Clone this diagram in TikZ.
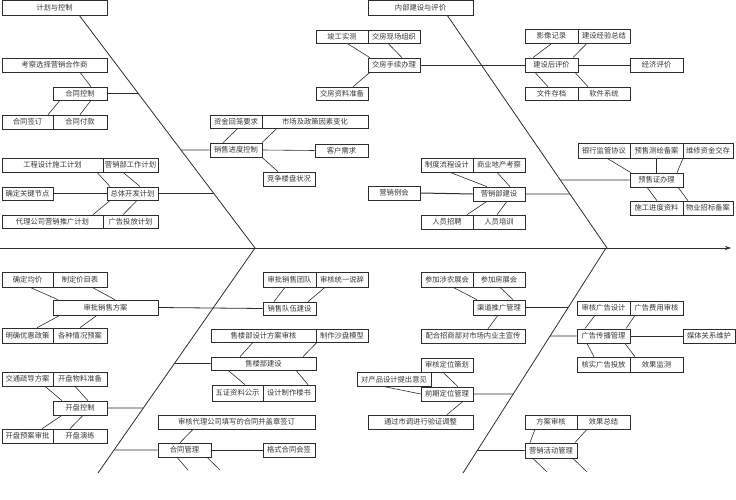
\documentclass[tikz,border=0pt]{standalone}
\usepackage{fontspec}
\newfontfamily\cjk{Noto Sans CJK SC}
\usetikzlibrary{arrows.meta}
\definecolor{ink}{RGB}{45,45,45}
\definecolor{txt}{RGB}{55,55,55}
\tikzset{
  bx/.style={draw=ink,line width=0.6pt,inner sep=0pt,text=txt,font=\cjk\fontsize{7.3}{8}\selectfont,fill=white},
  thk/.style={line width=0.95pt},
  ln/.style={draw=ink,line width=0.6pt},
  bone/.style={draw=ink,line width=0.8pt},
}
\newcommand\bx[7][]{%
  \pgfmathsetmacro\cx{(#3+#5)/2}\pgfmathsetmacro\cy{(#4+#6)/2}%
  \pgfmathsetmacro\ww{#5-#3}\pgfmathsetmacro\hh{#6-#4}%
  \node[bx,#1,minimum width=\ww pt,minimum height=\hh pt] (#2) at (\cx,\cy) {#7};}
\newcommand\cn[4]{\draw[ln] (#1.south -| #2,0) -- (#3.north -| #4,0);}
\begin{document}
\begin{tikzpicture}[x=1pt,y=-1pt]
\useasboundingbox (0,0) rectangle (736,500);
% spine and bones
\coordinate (sp0) at (0,248);
\coordinate (sp1) at (731,248);
\coordinate (b1a) at (79,15);  \coordinate (b1b) at (255,248);
\coordinate (b2a) at (447,15); \coordinate (b2b) at (607,248);
\coordinate (b3a) at (255,248); \coordinate (b3b) at (98,473);
\coordinate (b4a) at (606,248); \coordinate (b4b) at (463,473);
\draw[bone,-{Stealth[length=6pt,width=4pt]}] (sp0) -- (sp1);
\draw[bone] (b1a) -- (b1b);
\draw[bone] (b2a) -- (b2b);
\draw[bone] (b3a) -- (b3b);
\draw[bone] (b4a) -- (b4b);

% ---------- top-left ----------
\bx{plan}{2}{0.5}{107}{15}{计划与控制}
\bx{kc}{2}{58}{107}{72}{考察选择营销合作商}
\bx{htkz}{53}{87}{107}{100}{合同控制}
\bx{htqd}{2}{115}{53}{129}{合同签订}
\bx{htfk}{53}{115}{107}{129}{合同付款}
\bx{gcsj}{2}{158}{103}{172}{工程设计施工计划}
\bx{yxbgz}{103}{158}{158}{172}{营销部工作计划}
\bx{qdgj}{2}{187}{53}{200}{确定关键节点}
\bx[thk]{ztkf}{107}{187}{158}{200}{总体开发计划}
\bx{dlgs}{2}{215}{103}{228}{代理公司营销推广计划}
\bx{ggtf}{103}{215}{158}{228}{广告投放计划}
\bx{zjhl}{210}{115}{262}{128}{资金回笼要求}
\bx{scjzc}{262}{115}{368}{128}{市场及政策因素变化}
\bx{xsjd}{210}{143}{262}{157}{销售进度控制}
\bx{khxq}{315}{144}{368}{157}{客户需求}
\bx{jzlp}{263}{172}{315}{186}{竞争楼盘状况}

\cn{kc}{80}{htkz}{91}
\cn{htkz}{60}{htqd}{48}
\cn{htkz}{91}{htfk}{80}
\cn{gcsj}{97}{ztkf}{110}
\cn{yxbgz}{123}{ztkf}{140}
\cn{ztkf}{110}{dlgs}{93}
\cn{ztkf}{137}{ggtf}{123}
\draw[ln,line width=1pt] (qdgj.east) -- (ztkf.west);
\cn{zjhl}{238}{xsjd}{223}
\cn{scjzc}{277}{xsjd}{262}
\cn{xsjd}{262}{jzlp}{278}
\draw[ln] (xsjd.east) -- (khxq.west);
\draw[bone] (htkz.east) -- (intersection of b1a--b1b and htkz.east--htkz.west);
\draw[bone] (ztkf.east) -- (intersection of b1a--b1b and ztkf.east--ztkf.west);
\draw[bone] (intersection of b1a--b1b and xsjd.east--xsjd.west) -- (xsjd.west);

% ---------- top-right ----------
\bx{nbjs}{368}{0.5}{473}{15}{内部建设与评价}
\bx{jgsc}{316}{30}{368}{43}{竣工实测}
\bx{jfxc}{368}{30}{420}{43}{交房现场组织}
\bx{jfsx}{368}{58}{420}{72}{交房手续办理}
\bx{jfzl}{316}{87}{368}{100}{交房资料准备}
\bx{yxjl}{525}{29}{578}{43}{影像记录}
\bx{jsjy}{578}{29}{630}{43}{建设经验总结}
\bx[thk]{jshpj}{525}{58}{578}{72}{建设后评价}
\bx{jjpj}{630}{58}{683}{72}{经济评价}
\bx{wjcd}{525}{87}{578}{100}{文件存档}
\bx{rjxt}{578}{87}{630}{100}{软件系统}
\bx{yxlh}{368}{186}{420}{200}{营销例会}
\bx{zdlc}{421}{158}{473}{172}{制度流程设计}
\bx{sydc}{473}{158}{525}{172}{商业地产考察}
\bx{yxbjs}{473}{187}{525}{201}{营销部建设}
\bx{ryzp}{421}{215}{473}{229}{人员招聘}
\bx{rypx}{473}{215}{525}{229}{人员培训}
\bx{yhjg}{578}{143}{630}{158}{银行监管协议}
\bx{ysch}{630}{143}{683}{158}{预售测绘备案}
\bx{wxzj}{683}{143}{733}{158}{维修资金交存}
\bx{yszbl}{630}{173}{683}{187}{预售证办理}
\bx{sgjd}{630}{201}{683}{215}{施工进度资料}
\bx{wyzb}{683}{201}{733}{215}{物业招标备案}

\cn{jgsc}{347}{jfsx}{370}
\cn{jfxc}{388}{jfsx}{402}
\cn{jfsx}{370}{jfzl}{353}
\cn{yxjl}{552}{jshpj}{533}
\cn{jsjy}{587}{jshpj}{573}
\cn{jshpj}{535}{wjcd}{548}
\cn{jshpj}{575}{rjxt}{588}
\draw[ln] (jshpj.east) -- (jjpj.west);
\cn{zdlc}{450}{yxbjs}{487}
\cn{sydc}{497}{yxbjs}{510}
\cn{yxbjs}{487}{ryzp}{467}
\cn{yxbjs}{507}{rypx}{497}
\draw[ln,line width=1pt] (yxlh.east) -- (yxbjs.west);
\cn{yhjg}{607}{yszbl}{631}
\cn{ysch}{656}{yszbl}{656}
\cn{wxzj}{683}{yszbl}{677}
\cn{yszbl}{647}{sgjd}{657}
\cn{yszbl}{678}{wyzb}{688}
\draw[bone] (jfsx.east) -- (jshpj.west);
\draw[bone] (yxbjs.east) -- (intersection of b2a--b2b and yxbjs.east--yxbjs.west);
\draw[bone] (intersection of b2a--b2b and yszbl.east--yszbl.west) -- (yszbl.west);

% ---------- bottom-left ----------
\bx{qdjj}{2}{272}{53}{287}{确定均价}
\bx{zdjm}{53}{272}{107}{287}{制定价目表}
\bx{spxs}{53}{300}{158}{315}{审批销售方案}
\bx{mqyh}{2}{328}{53}{343}{明确优惠政策}
\bx{gzqk}{53}{328}{107}{343}{各种情况预案}
\bx{jtsd}{2}{372}{53}{386}{交通疏导方案}
\bx{kpwl}{53}{372}{107}{386}{开盘物料准备}
\bx{kpkz}{53}{401}{107}{415}{开盘控制}
\bx{kpya}{2}{429}{53}{443}{开盘预案审批}
\bx{kpyl}{53}{429}{107}{443}{开盘演练}
\bx{spxstd}{263}{272}{316}{287}{审批销售团队}
\bx{shty}{316}{272}{368}{287}{审核统一说辞}
\bx{xsdw}{263}{302}{316}{315}{销售队伍建设}
\bx{slbsj}{211}{329}{316}{342}{售楼部设计方案审核}
\bx{zzsp}{316}{329}{368}{342}{制作沙盘模型}
\bx{slbjs}{211}{357}{316}{370}{售楼部建设}
\bx{wzzl}{212}{385}{263}{401}{五证资料公示}
\bx{sjzz}{263}{385}{315}{401}{设计制作楼书}
\bx{shdl}{158}{415}{315}{429}{审核代理公司填写的合同并盖章签订}
\bx{htgl}{158}{443}{211}{457}{合同管理}
\bx{gsht}{263}{443}{315}{457}{格式合同会签}

\cn{qdjj}{30}{spxs}{58}
\cn{zdjm}{92}{spxs}{115}
\cn{spxs}{60}{mqyh}{37}
\cn{spxs}{97}{gzqk}{80}
\cn{jtsd}{45}{kpkz}{62}
\cn{kpwl}{75}{kpkz}{88}
\cn{kpkz}{62}{kpya}{42}
\cn{kpkz}{83}{kpyl}{70}
\cn{spxstd}{285}{xsdw}{274}
\cn{shty}{325}{xsdw}{308}
\cn{slbsj}{253}{slbjs}{240}
\cn{zzsp}{317}{slbjs}{303}
\cn{slbjs}{228}{wzzl}{245}
\cn{slbjs}{296}{sjzz}{308}
\cn{shdl}{193}{htgl}{180}
\draw[ln] (htgl.east) -- (gsht.west);
\coordinate (st1) at (188,470);
\coordinate (st2) at (220,470);
\draw[ln] (htgl.south -| 177,0) -- (st1);
\draw[ln] (htgl.south -| 207,0) -- (st2);
\draw[bone] (spxs.east) -- (xsdw.west);
\draw[bone] (kpkz.east) -- (intersection of b3a--b3b and kpkz.east--kpkz.west);
\draw[bone] (intersection of b3a--b3b and slbjs.east--slbjs.west) -- (slbjs.west);
\draw[bone] (intersection of b3a--b3b and htgl.east--htgl.west) -- (htgl.west);

% ---------- bottom-right ----------
\bx{cjsn}{421}{272}{473}{287}{参加涉农展会}
\bx{cjfz}{473}{272}{525}{287}{参加房展会}
\bx{qdtg}{473}{300}{525}{315}{渠道推广管理}
\bx{phzs}{421}{329}{525}{343}{配合招商部对市场内业主宣传}
\bx{shdw}{421}{358}{473}{372}{审核定位策划}
\bx{dcp}{357}{372}{431}{386.5}{对产品设计提出意见}
\bx{qqdw}{421}{387}{473}{401}{前期定位管理}
\bx{tgsd}{368}{415}{473}{429}{通过市调进行验证调整}
\bx{shgg}{577}{301}{630}{315}{审核广告设计}
\bx{ggfy}{630}{301}{683}{315}{广告费用审核}
\bx[thk]{ggcb}{577}{329}{630}{343}{广告传播管理}
\bx{mtgx}{683}{329}{735}{343}{媒体关系维护}
\bx{hsgg}{577}{357}{630}{372}{核实广告投放}
\bx{xgjc}{630}{357}{683}{372}{效果监测}
\bx{fash}{525}{415}{577}{429}{方案审核}
\bx{xgzj}{577}{415}{630}{429}{效果总结}
\bx[thk]{yxhd}{525}{443}{577}{458}{营销活动管理}

\cn{cjsn}{453}{qdtg}{477}
\cn{cjfz}{500}{qdtg}{513}
\cn{qdtg}{498}{phzs}{488}
\cn{shdw}{443}{qqdw}{458}
\draw[ln] (dcp.south -| 385,0) -- (qqdw.west);
\cn{qqdw}{463}{tgsd}{447}
\cn{shgg}{595}{ggcb}{585}
\cn{ggfy}{635}{ggcb}{626}
\cn{ggcb}{587}{hsgg}{594}
\cn{ggcb}{625}{xgjc}{635}
\draw[ln] (ggcb.east) -- (mtgx.west);
\cn{fash}{535}{yxhd}{530}
\cn{xgzj}{587}{yxhd}{575}
\coordinate (st3) at (547,472);
\coordinate (st4) at (587,472);
\draw[ln] (yxhd.south -| 533,0) -- (st3);
\draw[ln] (yxhd.south -| 573,0) -- (st4);
\draw[bone] (qdtg.east) -- (intersection of b4a--b4b and qdtg.east--qdtg.west);
\draw[bone] (qqdw.east) -- (intersection of b4a--b4b and qqdw.east--qqdw.west);
\draw[bone] (intersection of b4a--b4b and ggcb.east--ggcb.west) -- (ggcb.west);
\draw[bone] (intersection of b4a--b4b and yxhd.east--yxhd.west) -- (yxhd.west);
\end{tikzpicture}
\end{document}
